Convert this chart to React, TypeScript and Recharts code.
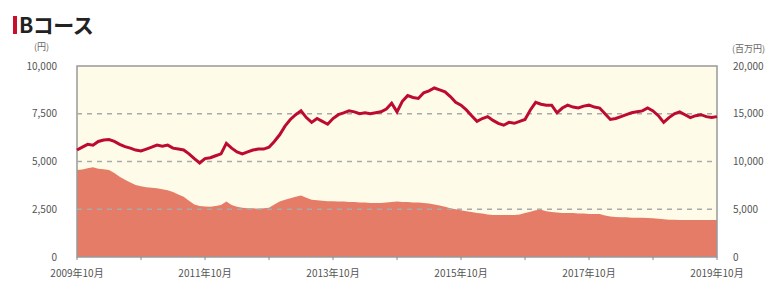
import { ComposedChart, Area, Line, XAxis, YAxis, ReferenceLine, ReferenceArea } from 'recharts'

// 基準価額 (円), monthly from 2009年10月 to 2019年10月
const navValues = [
  5600, 5750, 5900, 5850, 6050, 6125, 6150, 6050, 5900, 5780, 5700, 5600,
  5550, 5650, 5750, 5860, 5800, 5860, 5700, 5650, 5600, 5400, 5150, 4920,
  5150, 5200, 5300, 5400, 5950, 5700, 5500, 5400, 5500, 5600, 5650, 5650,
  5750, 6050, 6400, 6850, 7200, 7450, 7650, 7300, 7050, 7250, 7100, 6950,
  7250, 7450, 7550, 7650, 7600, 7500, 7550, 7500, 7550, 7600, 7750, 8050,
  7600, 8150, 8450, 8350, 8300, 8600, 8700, 8850, 8750, 8650, 8400, 8100,
  7950, 7700, 7400, 7100, 7250, 7350, 7150, 7000, 6900, 7050, 7000, 7100,
  7200, 7700, 8100, 8000, 7950, 7950, 7550, 7800, 7950, 7850, 7800, 7900,
  7950, 7850, 7800, 7500, 7200, 7250, 7350, 7450, 7550, 7600, 7650, 7800,
  7650, 7400, 7050, 7300, 7500, 7600, 7450, 7300, 7400, 7450, 7350, 7300,
  7350,
]

// 純資産総額 (百万円)
const assetValues = [
  9100, 9150, 9300, 9400, 9250, 9200, 9100, 8800, 8400, 8100, 7800, 7550,
  7400, 7300, 7250, 7200, 7100, 7000, 6800, 6550, 6300, 5900, 5500, 5350,
  5300, 5250, 5350, 5450, 5800, 5450, 5250, 5150, 5100, 5100, 5050, 5100,
  5150, 5500, 5800, 6000, 6150, 6300, 6450, 6200, 6000, 5950, 5900, 5850,
  5850, 5800, 5800, 5750, 5750, 5700, 5700, 5650, 5650, 5650, 5700, 5750,
  5800, 5750, 5750, 5700, 5700, 5650, 5600, 5500, 5400, 5250, 5100, 5000,
  4900, 4800, 4700, 4600, 4550, 4450, 4400, 4400, 4400, 4400, 4400, 4450,
  4600, 4750, 4900, 4950, 4800, 4700, 4650, 4600, 4600, 4600, 4550, 4550,
  4500, 4500, 4500, 4350, 4250, 4200, 4150, 4150, 4100, 4100, 4100, 4080,
  4050, 4000, 3950, 3900, 3900, 3870, 3870, 3870, 3870, 3870, 3870, 3870,
  3870,
]

const xTicks = [0, 12, 24, 36, 48, 60, 72, 84, 96, 108, 120]
const leftTicks = [0, 2500, 5000, 7500, 10000]
const rightTicks = [0, 5000, 10000, 15000, 20000]
const gridLines = [2500, 5000, 7500]

const data = navValues.map((nav, i) => ({ m: i, nav, assets: assetValues[i] }))

const FONT = '"Noto Sans CJK JP", "Noto Sans", sans-serif'

const monthLabel = (m: number) => (m % 24 === 0 ? `${2009 + m / 12}年10月` : '')

export default function App() {
  const tickStyle = { fontSize: 10, fill: '#555', fontFamily: FONT }
  return (
    <div style={{ position: 'absolute', left: 0, top: 0, width: 783, height: 285, background: '#fff', fontFamily: FONT }}>
      {/* title */}
      <div style={{ position: 'absolute', left: 13, top: 16, width: 4, height: 18, background: '#c8102e' }} />
      <div style={{ position: 'absolute', left: 19, top: 10, fontSize: 21, fontWeight: 700, color: '#222', lineHeight: '28px', letterSpacing: -0.5 }}>Bコース</div>
      <div style={{ position: 'absolute', left: 34, top: 40, fontSize: 9, color: '#666' }}>(円)</div>
      <div style={{ position: 'absolute', left: 732, top: 42, fontSize: 9, color: '#666' }}>(百万円)</div>

      <ComposedChart width={783} height={285} data={data} margin={{ top: 66, right: 0, bottom: 0, left: 0 }}>
        <ReferenceArea yAxisId="left" x1={0} x2={120} y1={0} y2={10000} fill="#fefce9" fillOpacity={1} stroke="none" />
        <XAxis
          dataKey="m"
          type="number"
          domain={[0, 120]}
          ticks={xTicks}
          tickFormatter={monthLabel}
          height={28}
          axisLine={false}
          tickLine={{ stroke: '#888' }}
          tickSize={3}
          tickMargin={10}
          tick={tickStyle}
          interval={0}
        />
        <YAxis
          yAxisId="left"
          domain={[0, 10000]}
          ticks={leftTicks}
          width={77}
          axisLine={false}
          tickLine={false}
          tickSize={0}
          tickMargin={20}
          tick={tickStyle}
          tickFormatter={(v: number) => v.toLocaleString('en-US')}
        />
        <YAxis
          yAxisId="right"
          orientation="right"
          domain={[0, 20000]}
          ticks={rightTicks}
          width={66}
          axisLine={false}
          tickLine={false}
          tickSize={0}
          tickMargin={16}
          tick={tickStyle}
          tickFormatter={(v: number) => v.toLocaleString('en-US')}
        />
        <Area
          yAxisId="right"
          dataKey="assets"
          type="linear"
          stroke="none"
          fill="#e57c67"
          fillOpacity={1}
          isAnimationActive={false}
        />
        {gridLines.map(v => (
          <ReferenceLine key={v} yAxisId="left" y={v} stroke="#aaa" strokeWidth={1.5} strokeDasharray="5 5" />
        ))}
        <Line
          yAxisId="left"
          dataKey="nav"
          type="linear"
          stroke="#bd0a30"
          strokeWidth={3}
          strokeLinejoin="miter"
          dot={false}
          isAnimationActive={false}
        />
        <ReferenceArea yAxisId="left" x1={0} x2={120} y1={0} y2={10000} fill="none" stroke="#999" strokeWidth={1.5} />
      </ComposedChart>
    </div>
  )
}
